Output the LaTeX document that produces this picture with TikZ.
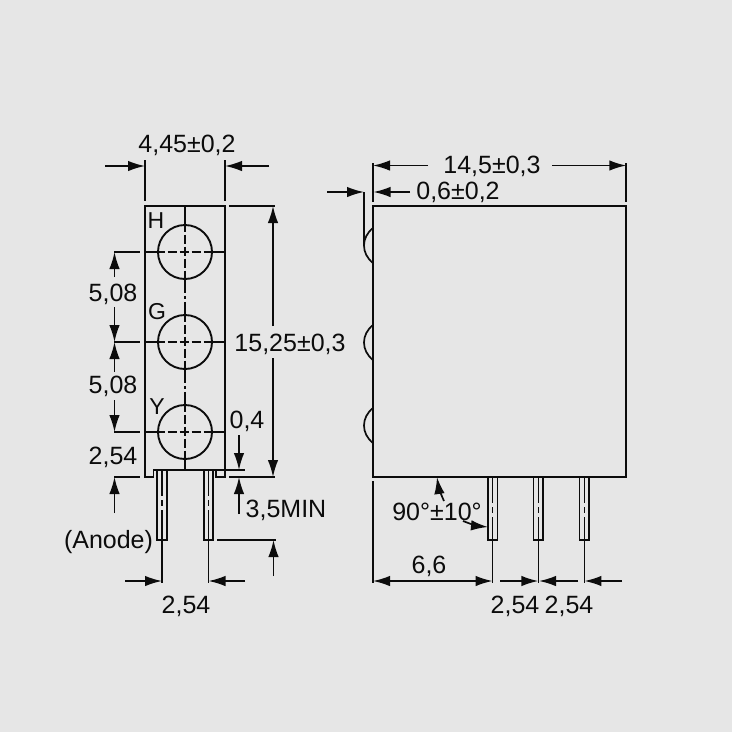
\documentclass[tikz,border=0pt]{standalone}
\usepackage{fontspec}
\setmainfont{Liberation Sans}
\usetikzlibrary{arrows.meta,positioning}
\tikzset{
  outline/.style={line width=1.9pt, line cap=rect},
  thinline/.style={line width=1.7pt},
  dimline/.style={line width=1.7pt, -{Latex[length=17pt,width=10.5pt]}},
  centreline/.style={line width=1.6pt, dash pattern=on 9pt off 3pt, dash phase=1.5pt},
  axisline/.style={line width=1.6pt, dash pattern=on 13pt off 3pt on 3pt off 3pt},
  pinline/.style={line width=1.5pt, dash pattern=on 26pt off 4pt on 6pt off 4pt on 40pt},
  dimtext/.style={inner sep=0pt, yshift=-2pt, font=\fontsize{25}{25}\selectfont},
  ledtext/.style={inner sep=0pt, yshift=-1pt, font=\fontsize{23}{23}\selectfont}
}
\definecolor{paper}{HTML}{E6E6E6}
\definecolor{ink}{HTML}{0C0C0C}

\begin{document}
\begin{tikzpicture}[x=1pt, y=-1pt, color=ink, text=ink]
  \fill[paper] (0,0) rectangle (732,732);
  \useasboundingbox (0,0) rectangle (732,732);

  % front view
  \coordinate (bodytl) at (145,206);
  \coordinate (bodytr) at (225,206);
  \draw[outline] (bodytl) -- (bodytr) -- (225,477) -- (216,477) -- (216,470) -- (153.5,470) -- (153.5,477) -- (145,477) -- cycle;
  \foreach \name/\ypos in {h/252, g/342, y/432} {
    \node[draw, circle, outline, minimum size=54pt, inner sep=0pt] (led\name) at (185,\ypos) {};
    \draw[centreline] (led\name.west) -- (led\name.east);
    \draw[centreline] (led\name.north) -- (led\name.south);
    \draw[thinline] (145,\ypos) -- (led\name.west);
    \draw[thinline] (led\name.east) -- (225,\ypos);
    \draw[thinline] (114,\ypos) -- (140,\ypos);
  }
  \draw[thinline] (185,206) -- (ledh.north);
  \draw[axisline] (ledh.south) -- (ledg.north);
  \draw[axisline] (ledg.south) -- (ledy.north);
  \draw[thinline] (ledy.south) -- (185,470);
  \node[ledtext] (labh) at (156,220) {H};
  \node[ledtext] (labg) at (157,311) {G};
  \node[ledtext] (laby) at (157,406) {Y};

  % pins, front view
  \foreach \xpos in {162,208.5} {
    \draw[thinline] (\xpos-4.8,470) rectangle (\xpos+4.8,540);
    \draw[pinline] (\xpos,470) -- (\xpos,540);
    \draw[thinline] (\xpos,540) -- (\xpos,583);
  }

  % dimensions, front view
  \draw[thinline] (145,160) -- (145,201);
  \draw[thinline] (225,160) -- (225,201);
  \draw[dimline] (105,166) -- (145,166);
  \draw[dimline] (269,166) -- (225,166);
  \node[dimtext] (w445) at (187,143) {4,45±0,2};

  \draw[thinline] (229,206) -- (275,206);
  \draw[thinline] (229,477) -- (275,477);
  \draw[dimline] (273,326) -- (273,206);
  \draw[dimline] (273,358) -- (273,477);
  \node[dimtext] (h1525) at (290,342) {15,25±0,3};

  \draw[dimline] (114.5,277) -- (114.5,252);
  \draw[dimline] (114.5,307) -- (114.5,342);
  \draw[dimline] (114.5,372) -- (114.5,342);
  \draw[dimline] (114.5,400) -- (114.5,432);
  \draw[thinline] (114,477) -- (140,477);
  \draw[dimline] (114.5,513) -- (114.5,477);
  \node[dimtext] (h508a) at (113,292) {5,08};
  \node[dimtext] (h508b) at (113,384) {5,08};
  \node[dimtext] (h254) at (113,455) {2,54};
  \node[dimtext] (anode) at (108.5,540) {(Anode)};

  \draw[thinline] (216,470) -- (245,470);
  \draw[dimline] (239,435) -- (239,470);
  \draw[dimline] (239,514) -- (239,477);
  \node[dimtext] (t04) at (247,419) {0,4};
  \node[dimtext] (min35) at (286,508) {3,5MIN};

  \draw[thinline] (217,540) -- (276,540);
  \draw[dimline] (273.5,576) -- (273.5,540);

  \draw[dimline] (125,581) -- (162,581);
  \draw[dimline] (245,581) -- (208.5,581);
  \node[dimtext] (p254) at (186,604) {2,54};

  % side view
  \node[draw, outline, minimum width=253pt, minimum height=270.5pt, inner sep=0pt, outer sep=0pt] (side) at (499.6,341.3) {};
  \foreach \ypos in {245.5,342.5,425.5} {
    \draw[thinline] (373,\ypos-17.5) .. controls (361,\ypos-8) and (361,\ypos+8) .. (373,\ypos+17.5);
  }
  \foreach \xpos in {492.6,538.4,584.4} {
    \draw[thinline] (\xpos-4.8,477) rectangle (\xpos+4.8,540);
    \draw[pinline] (\xpos,477) -- (\xpos,540);
    \draw[thinline] (\xpos,540) -- (\xpos,583);
  }

  % dimensions, side view
  \draw[thinline] (373,163) -- (373,202);
  \draw[thinline] (626.3,163) -- (626.3,202);
  \draw[dimline] (428,165.5) -- (373,165.5);
  \draw[dimline] (552,165.5) -- (626.3,165.5);
  \node[dimtext] (w145) at (492,164) {14,5±0,3};

  \draw[dimline] (410,192) -- (373.5,192);
  \draw[dimline] (327,192) -- (364,192);
  \draw[thinline] (364,192) -- (364,246);
  \node[dimtext] (w06) at (458,190) {0,6±0,2};

  \draw[thinline] (373,481) -- (373,583);
  \draw[dimline] (429,581) -- (373,581);
  \draw[dimline] (429,581) -- (492.6,581);
  \node[dimtext] (l66) at (429,564) {6,6};

  \draw[dimline] (500,581) -- (538.4,581);
  \draw[dimline] (578,581) -- (539,581);
  \draw[dimline] (622,581) -- (584.4,581);
  \node[dimtext] (p254a) at (515,604) {2,54};
  \node[dimtext] (p254b) at (569,604) {2,54};

  \node[dimtext] (ang) at (437,510) {90°±10°};
  \draw[dimline] (444,501) to[bend left=8] (437,477);
  \draw[dimline] (463,521) to[bend right=8] (488,527);
\end{tikzpicture}
\end{document}
